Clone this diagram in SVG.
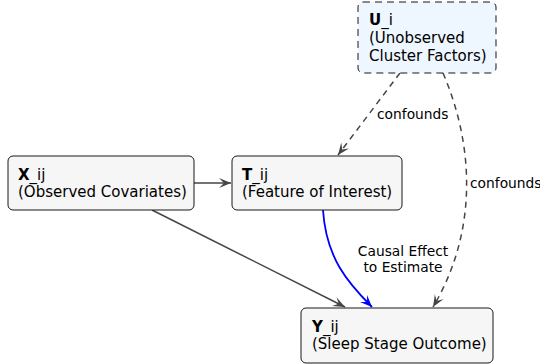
<svg xmlns="http://www.w3.org/2000/svg" width="540" height="364" viewBox="0 0 540 364">
<style>
.node{fill:#F6F6F6;stroke:#181818;stroke-width:1;}
.unode{fill:#EEF6FF;stroke:#181818;stroke-width:1;stroke-dasharray:7,5;}
.t{font-family:"DejaVu Sans",sans-serif;font-size:15px;fill:#000;}
.b{font-weight:bold;}
.lbl{font-family:"DejaVu Sans",sans-serif;font-size:13.8px;fill:#000;}
.e{fill:none;stroke:#454545;stroke-width:1.5;}
.d{stroke-dasharray:6,5;}
.blue{fill:none;stroke:#0000FF;stroke-width:1.8;}
</style>
<defs>
<marker id="ah" markerUnits="userSpaceOnUse" markerWidth="14" markerHeight="12" refX="12" refY="5" orient="auto" viewBox="0 0 14 12">
<path d="M0,0 L12,5 L0,10 L5,5 Z" fill="#454545"/>
</marker>
<marker id="ahb" markerUnits="userSpaceOnUse" markerWidth="14" markerHeight="12" refX="12" refY="5" orient="auto" viewBox="0 0 14 12">
<path d="M0,0 L12,5 L0,10 L5,5 Z" fill="#0000FF"/>
</marker>
</defs>
<g id="edges">
<path class="e" d="M194,183 L231,183" marker-end="url(#ah)"/>
<path class="e d" d="M400,73 L338,155" marker-end="url(#ah)"/>
<path class="e d" d="M443,73 C476,150 476,235 433,307" marker-end="url(#ah)"/>
<path class="blue" d="M323,210 C326,258 348,283 372,307" marker-end="url(#ahb)"/>
<path class="e" d="M152,210 L345,307" marker-end="url(#ah)"/>
<text class="lbl" x="377" y="119">confounds</text>
<text class="lbl" x="470" y="188">confounds</text>
<text class="lbl" x="403" y="256" text-anchor="middle">Causal Effect</text>
<text class="lbl" x="403" y="272" text-anchor="middle">to Estimate</text>
</g>
<g id="U">
<rect class="unode" x="358" y="2" width="138" height="71" rx="5"/>
<text class="t" x="369" y="25"><tspan class="b">U</tspan>_i</text>
<text class="t" x="369" y="43">(Unobserved</text>
<text class="t" x="369" y="61">Cluster Factors)</text>
</g>
<g id="X">
<rect class="node" x="8" y="156" width="186" height="54" rx="5"/>
<text class="t" x="18" y="180"><tspan class="b">X</tspan>_ij</text>
<text class="t" x="18" y="197">(Observed Covariates)</text>
</g>
<g id="T">
<rect class="node" x="232" y="156" width="170" height="54" rx="5"/>
<text class="t" x="242" y="180"><tspan class="b">T</tspan>_ij</text>
<text class="t" x="242" y="197">(Feature of Interest)</text>
</g>
<g id="Y">
<rect class="node" x="301" y="308" width="192" height="55" rx="5"/>
<text class="t" x="312" y="332"><tspan class="b">Y</tspan>_ij</text>
<text class="t" x="312" y="349">(Sleep Stage Outcome)</text>
</g>
</svg>
